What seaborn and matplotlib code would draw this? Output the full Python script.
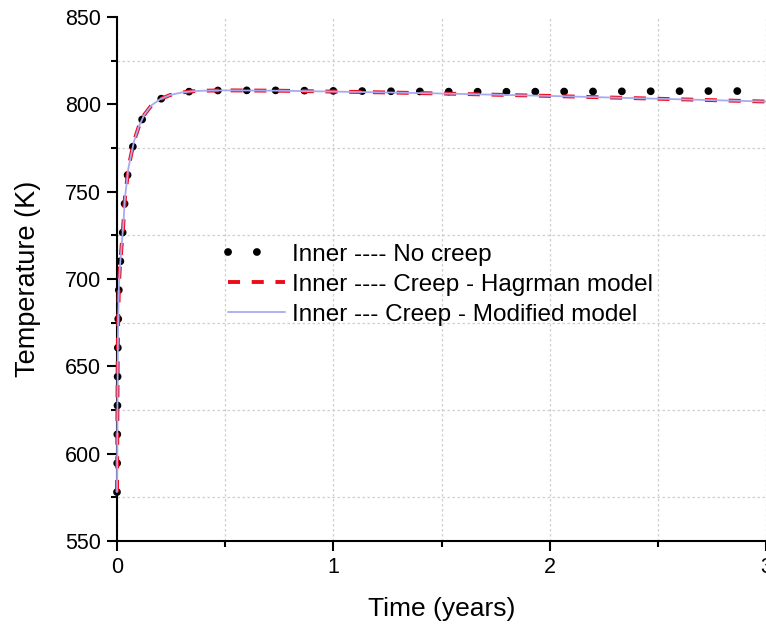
import numpy as np
import pandas as pd
import matplotlib
matplotlib.use("Agg")
import matplotlib.pyplot as plt
from matplotlib.ticker import MultipleLocator
import seaborn as sns

# ---- data ----
time_years = [0.0, 0.001, 0.002, 0.003, 0.004, 0.006, 0.009, 0.013, 0.018, 0.024,
              0.029, 0.037, 0.045, 0.052, 0.065, 0.079, 0.10, 0.126, 0.16, 0.20,
              0.245, 0.30, 0.35, 0.40, 0.50, 0.75, 1.00, 1.25, 1.50, 1.75,
              2.00, 2.25, 2.50, 2.75, 3.00]
temp_no_creep = [578, 600, 625, 648, 663, 680, 697, 706, 714, 723,
                 731, 747, 755, 763, 771, 779, 787, 794, 799.5, 803,
                 805.3, 806.8, 807.5, 807.8, 808.0, 808.0, 807.7, 807.5, 807.3, 807.2,
                 807.3, 807.4, 807.5, 807.6, 807.6]
temp_creep_hagrman = [578, 600, 625, 648, 663, 680, 697, 706, 714, 723,
                      731, 747, 755, 763, 771, 779, 787, 794, 799.5, 803,
                      805.3, 806.8, 807.5, 807.8, 808.0, 807.8, 807.3, 806.8, 806.2, 805.5,
                      804.8, 804.0, 803.2, 802.4, 801.6]
temp_creep_modified = [578, 600, 625, 648, 663, 680, 697, 706, 714, 723,
                       731, 747, 755, 763, 771, 779, 787, 794, 799.5, 803,
                       805.3, 806.8, 807.5, 807.8, 808.0, 807.8, 807.3, 806.8, 806.2, 805.5,
                       804.8, 804.0, 803.2, 802.4, 801.6]
series_labels = ["Inner ---- No creep",
                 "Inner ---- Creep - Hagrman model",
                 "Inner --- Creep - Modified model"]
x_ticks = [0, 1, 2, 3]
y_ticks = [550, 600, 650, 700, 750, 800, 850]

df = pd.DataFrame({"t": time_years,
                   "nc": temp_no_creep,
                   "hg": temp_creep_hagrman,
                   "md": temp_creep_modified})

sns.set_theme(style="ticks")
plt.rcParams["font.family"] = ["Liberation Sans", "DejaVu Sans"]
plt.rcParams["text.color"] = "black"
plt.rcParams["axes.labelcolor"] = "black"
plt.rcParams["xtick.color"] = "black"
plt.rcParams["ytick.color"] = "black"

fig = plt.figure(figsize=(7.66, 6.24), dpi=100)
ax = fig.add_axes([117 / 766, 83 / 624, 649 / 766, 524 / 624])

sns.lineplot(data=df, x="t", y="nc", ax=ax, color="black", lw=5.6,
             linestyle=(0, (0.01, 3.7)), dash_capstyle="round",
             label=series_labels[0], sort=False, estimator=None, zorder=3,
             clip_on=False)
sns.lineplot(data=df, x="t", y="hg", ax=ax, color="#ee0a1a", lw=2.8,
             linestyle=(0, (3.1, 3.0)), label=series_labels[1], sort=False,
             estimator=None, zorder=4, clip_on=False)
sns.lineplot(data=df, x="t", y="md", ax=ax, color="#a9a9f2", lw=1.3,
             linestyle="-", label=series_labels[2], sort=False,
             estimator=None, zorder=5, clip_on=False)

ax.set_xlim(0, 3)
ax.set_ylim(550, 850)
ax.set_xticks(x_ticks)
ax.set_yticks(y_ticks)
ax.xaxis.set_minor_locator(MultipleLocator(0.5))
ax.yaxis.set_minor_locator(MultipleLocator(25))

for s in ["top", "right"]:
    ax.spines[s].set_visible(False)
for s in ["left", "bottom"]:
    ax.spines[s].set_linewidth(1.5)
    ax.spines[s].set_color("black")

ax.tick_params(which="major", direction="out", length=7.5, width=1.5,
               labelsize=15.5, pad=4, colors="black")
ax.tick_params(which="minor", direction="out", length=4, width=1.5, colors="black")

grid_kw = dict(color="#cfcfcf", lw=0.9, linestyle=(0, (2, 2)))
ax.grid(False)
ax.xaxis.grid(True, which="both", **grid_kw)
ax.yaxis.grid(True, which="minor", **grid_kw)
ax.set_axisbelow(True)

ax.set_xlabel("Time (years)", fontsize=19, labelpad=14, color="black")
ax.set_ylabel("Temperature (K)", fontsize=19.5, labelpad=17, color="black")

leg = ax.legend(loc="center left", bbox_to_anchor=(0.171, 0.489), frameon=False,
                fontsize=17.5, handlelength=2.35, handletextpad=0.28,
                labelspacing=0.33, borderpad=0, borderaxespad=0)
for txt in leg.get_texts():
    txt.set_color("black")

fig.savefig("out.png", dpi=100)
